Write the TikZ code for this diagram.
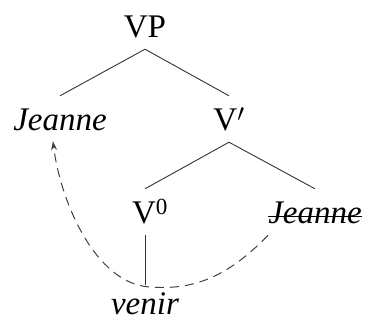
\documentclass[tikz,border=0pt]{standalone}
\usepackage{fontspec}
\setmainfont{Liberation Serif}
\newfontfamily\tmsfont{Liberation Serif}
\usetikzlibrary{arrows.meta}
\begin{document}
\begin{tikzpicture}[x=1bp,y=-1bp,
  lbl/.style={inner xsep=0pt,inner ysep=12bp,text height=22bp,text depth=0pt,anchor=base,
    font=\tmsfont\fontsize{33bp}{40bp}\selectfont},
  branch/.style={line width=0.9bp,draw=black!80},
  move/.style={line width=1bp,draw=black!75,dash pattern=on 9bp off 6bp,-{Stealth[length=9bp,width=6bp]}}]
\useasboundingbox (0,0) rectangle (365,320);
\node[lbl] (vp) at (145,37) {VP};
\node[lbl] (j1) at (60,130) {\textit{Jeanne}};
\node[lbl] (vb) at (229,130) {V$'$};
\node[lbl] (v0) at (150,223) {V\textsuperscript{0}};
\node[lbl] (j2) at (315,223) {\textit{Jeanne}};
\node[lbl,inner ysep=4bp] (ve) at (145,314) {\textit{venir}};
\draw[branch] (vp.south) -- (j1.north);
\draw[branch] (vp.south) -- (vb.north);
\draw[branch] (vb.south) -- (v0.north -| ve.north);
\draw[branch] (vb.south) -- (j2.north);
\draw[branch] (v0.south -| ve.north) -- ([yshift=3bp]ve.north);
\draw[line width=0.9bp] ([yshift=7bp]j2.base west) -- ([yshift=7bp]j2.base east);
\draw[move] (j2.south west) .. controls (225,280) and (190,290) .. (150,287)
  .. controls (95,284) and (60,200) .. ([xshift=-7bp,yshift=1bp]j1.south);
\end{tikzpicture}
\end{document}
